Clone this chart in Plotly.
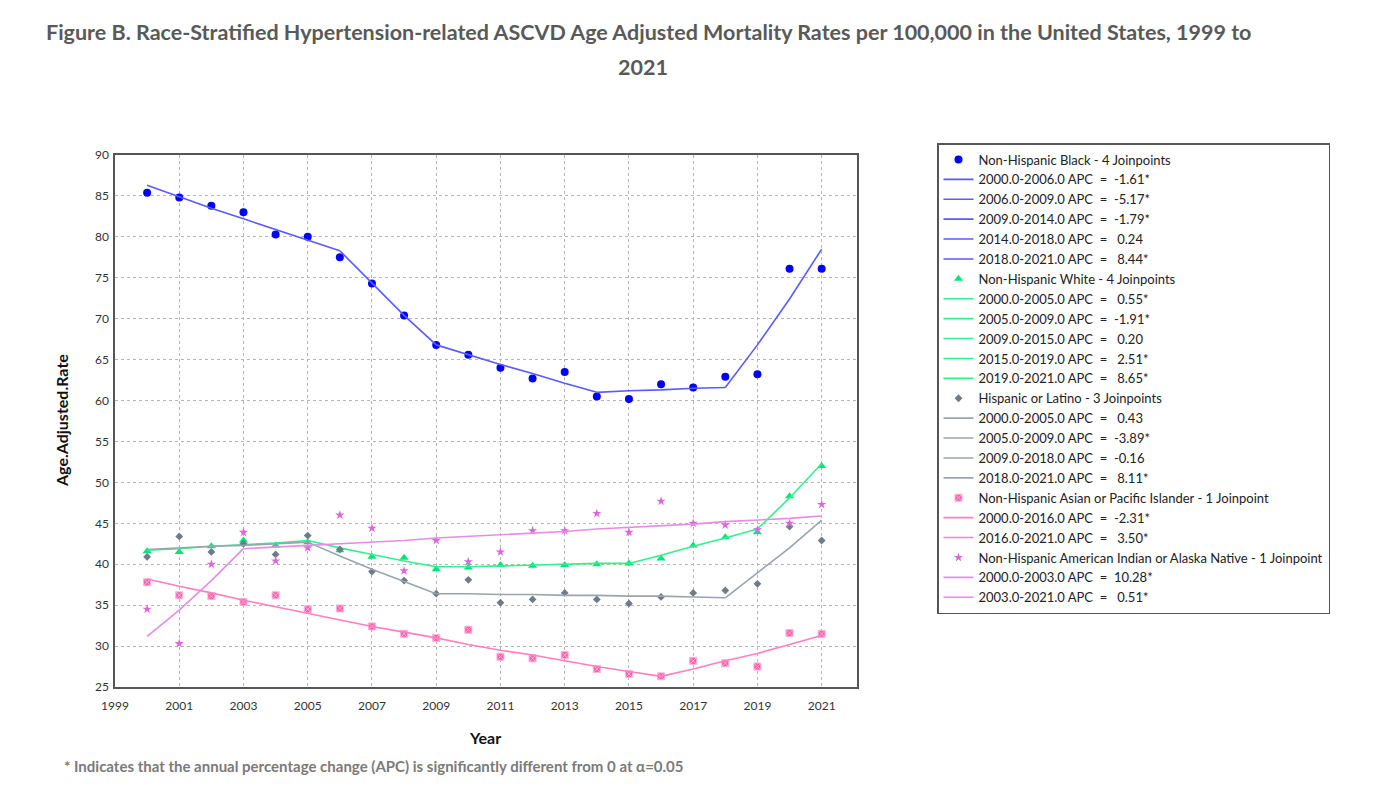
import plotly.graph_objects as go

years = list(range(2000, 2022))

black_obs = [85.4, 84.8, 83.8, 83.0, 80.3, 80.0, 77.5, 74.3, 70.4, 66.8, 65.6,
             64.0, 62.7, 63.5, 60.5, 60.2, 62.0, 61.6, 62.9, 63.2, 76.1, 76.1]
white_obs = [41.6, 41.5, 42.2, 42.9, 42.3, 42.7, 41.7, 40.9, 40.8, 39.4, 39.6,
             39.9, 39.8, 39.9, 40.0, 40.1, 40.7, 42.3, 43.3, 43.9, 48.3, 52.0]
hisp_obs = [40.9, 43.4, 41.5, 42.5, 41.2, 43.5, 41.8, 39.1, 38.0, 36.4, 38.1,
            35.3, 35.7, 36.5, 35.7, 35.2, 36.0, 36.5, 36.8, 37.6, 44.6, 42.9]
asian_obs = [37.8, 36.2, 36.1, 35.4, 36.2, 34.5, 34.6, 32.4, 31.5, 31.0, 32.0,
             28.7, 28.5, 28.9, 27.2, 26.6, 26.3, 28.2, 27.9, 27.5, 31.6, 31.5]
aian_obs = [34.5, 30.3, 40.0, 43.9, 40.4, 42.0, 46.0, 44.4, 39.2, 42.9, 40.3,
            41.5, 44.1, 44.1, 46.2, 43.9, 47.7, 45.0, 44.8, 44.2, 45.0, 47.3]

# Joinpoint fitted values
black_fit = [86.3, 84.9, 83.5, 82.2, 80.9, 79.6, 78.3, 74.3, 70.4, 66.8, 65.6,
             64.4, 63.3, 62.1, 61.0, 61.2, 61.3, 61.5, 61.6, 66.8, 72.4, 78.5]
white_fit = [41.7, 41.9, 42.2, 42.4, 42.6, 42.9, 42.0, 41.2, 40.4, 39.7, 39.7,
             39.8, 39.9, 40.0, 40.1, 40.1, 41.1, 42.2, 43.2, 44.3, 48.1, 52.3]
hisp_fit = [41.8, 42.0, 42.2, 42.3, 42.5, 42.7, 41.0, 39.4, 37.9, 36.4, 36.4,
            36.3, 36.3, 36.2, 36.2, 36.1, 36.1, 36.0, 35.9, 38.9, 42.0, 45.4]
asian_fit = [38.2, 37.3, 36.5, 35.6, 34.8, 34.0, 33.2, 32.4, 31.7, 31.0, 30.2,
             29.5, 28.9, 28.2, 27.5, 26.9, 26.3, 27.2, 28.2, 29.1, 30.2, 31.3]
aian_fit = [31.2, 34.4, 38.0, 41.9, 42.1, 42.3, 42.5, 42.7, 42.9, 43.2, 43.4,
            43.6, 43.8, 44.0, 44.3, 44.5, 44.7, 44.9, 45.2, 45.4, 45.6, 45.9]

black_joins = [2000, 2006, 2009, 2014, 2018, 2021]
white_joins = [2000, 2005, 2009, 2015, 2019, 2021]
hisp_joins = [2000, 2005, 2009, 2018, 2021]
asian_joins = [2000, 2016, 2021]
aian_joins = [2000, 2003, 2021]

black_apc = ["-1.61*", "-5.17*", "-1.79*", " 0.24", " 8.44*"]
white_apc = [" 0.55*", "-1.91*", " 0.20", " 2.51*", " 8.65*"]
hisp_apc = [" 0.43", "-3.89*", "-0.16", " 8.11*"]
asian_apc = ["-2.31*", " 3.50*"]
aian_apc = ["10.28*", " 0.51*"]

groups = [
    ("Non-Hispanic Black - 4 Joinpoints", black_obs, black_fit, black_joins, black_apc,
     "#0000FF", "#5A5AFF", "circle", 8, None),
    ("Non-Hispanic White - 4 Joinpoints", white_obs, white_fit, white_joins, white_apc,
     "#00E676", "#33F08A", "triangle-up", 8, None),
    ("Hispanic or Latino - 3 Joinpoints", hisp_obs, hisp_fit, hisp_joins, hisp_apc,
     "#6E7B8B", "#9AA4B0", "diamond", 6, None),
    ("Non-Hispanic Asian or Pacific Islander - 1 Joinpoint", asian_obs, asian_fit, asian_joins, asian_apc,
     "#FF5CAD", "#FF7FBF", "square-x", 7, "#FFB3DA"),
    ("Non-Hispanic American Indian or Alaska Native - 1 Joinpoint", aian_obs, aian_fit, aian_joins, aian_apc,
     "#DD66DD", "#E58DE5", "star", 7, None),
]

fig = go.Figure()
for name, obs, fit, joins, apcs, mcol, lcol, sym, msz, mline in groups:
    mk = dict(color=mcol, symbol=sym, size=msz, line=dict(width=0))
    if mline:
        mk["line"] = dict(width=1, color=mline)
    fig.add_trace(go.Scatter(x=years, y=obs, mode="markers", name=name, marker=mk))
    for i in range(len(joins) - 1):
        a, b = joins[i], joins[i + 1]
        xs = [y for y in years if a <= y <= b]
        ys = [fit[years.index(y)] for y in xs]
        label = f"{a}.0-{b}.0 APC  =  {apcs[i]}"
        fig.add_trace(go.Scatter(x=xs, y=ys, mode="lines", name=label,
                                 line=dict(color=lcol, width=1.6)))

# Screen-pixel geometry (page body has an 8px margin)
OFF = 8
FW, FH = 1390, 792
L, R, T, B = 115, 857, 155, 687
W, H = R - L, B - T

def px(xp):
    return (xp - L) / W

def py(yp):
    return (B - yp) / H

fig.update_layout(
    width=FW, height=FH,
    margin=dict(l=L - OFF, r=FW - (R - OFF), t=T - OFF, b=FH - (B - OFF)),
    paper_bgcolor="white", plot_bgcolor="white",
    font=dict(family="Lato, Noto Sans, sans-serif", size=12, color="#222"),
    legend=dict(x=px(937), y=py(143), xanchor="left", yanchor="top",
                bordercolor="#555", borderwidth=1.5, bgcolor="white",
                font=dict(family="Lato, sans-serif", size=13, color="#222"),
                tracegroupgap=0, itemwidth=30, maxheight=1000,
                entrywidth=356, entrywidthmode="pixels"),
    showlegend=True,
)
fig.update_xaxes(range=[1999, 2022.1], tick0=1999, dtick=2, showgrid=True,
                 gridcolor="#b5b5b5", griddash="dot", gridwidth=1,
                 showline=True, mirror=True, linecolor="#555", linewidth=1.5,
                 zeroline=False, ticks="", ticklabelstandoff=7,
                 tickfont=dict(size=12, color="#333"))
fig.update_yaxes(range=[25, 90], tick0=25, dtick=5, showgrid=True,
                 gridcolor="#b5b5b5", griddash="dot", gridwidth=1,
                 showline=True, mirror=True, linecolor="#555", linewidth=1.5,
                 zeroline=False, ticks="", ticklabelstandoff=2,
                 tickfont=dict(size=12, color="#333"))

title_font = dict(family="Lato, sans-serif", size=21.5, color="#595959")
fig.add_annotation(text="<b>Figure B. Race-Stratified Hypertension-related ASCVD Age Adjusted Mortality Rates per 100,000 in the United States, 1999 to</b>",
                   xref="paper", yref="paper", x=px(648), y=py(32),
                   xanchor="center", yanchor="middle", showarrow=False, font=title_font)
fig.add_annotation(text="<b>2021</b>", xref="paper", yref="paper", x=px(643), y=py(67),
                   xanchor="center", yanchor="middle", showarrow=False, font=title_font)
fig.add_annotation(text="<b>Age.Adjusted.Rate</b>", xref="paper", yref="paper",
                   x=px(61), y=py(420), textangle=-90, xanchor="center", yanchor="middle",
                   showarrow=False, font=dict(family="Lato, sans-serif", size=16, color="#111"))
fig.add_annotation(text="<b>Year</b>", xref="paper", yref="paper",
                   x=px(485), y=py(737), xanchor="center", yanchor="middle",
                   showarrow=False, font=dict(family="Lato, sans-serif", size=16, color="#111"))
fig.add_annotation(text="<b>* Indicates that the annual percentage change (APC) is significantly different from 0 at α=0.05</b>",
                   xref="paper", yref="paper", x=px(62), y=py(766), xanchor="left", yanchor="middle",
                   showarrow=False, font=dict(family="Lato, sans-serif", size=15, color="#7a7a7a"))

fig.write_html("out.html")
